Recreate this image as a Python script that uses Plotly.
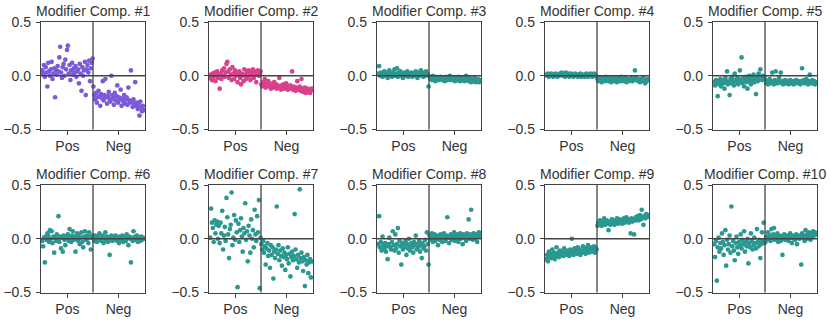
import plotly.graph_objects as go

# values, one list per half of each panel
pos_1 = [0.05, 0.02, 0.10, -0.01, 0.08, 0.03, -0.10, 0.12, 0.04, 0.00,
         0.06, 0.13, -0.03, 0.02, 0.07, -0.20, 0.05, 0.01, 0.09, 0.04,
         0.17, 0.27, 0.03, -0.02, 0.08, 0.11, 0.00, 0.15, 0.06, 0.24,
         0.28, 0.02, 0.10, -0.04, 0.05, 0.12, 0.01, 0.07, 0.03, 0.09,
         -0.01, 0.04, 0.06, -0.07, 0.11, 0.02, -0.14, 0.08, 0.00, 0.05,
         0.13, -0.18, 0.06, 0.10, 0.03, 0.14, -0.05, 0.07, 0.12, 0.16]
neg_1 = [-0.10, -0.18, -0.22, -0.16, -0.25, -0.20, -0.14, -0.19, -0.28, -0.17,
         -0.21, -0.05, -0.23, -0.18, -0.03, -0.20, -0.26, -0.19, -0.15, -0.22,
         -0.24, 0.00, -0.18, -0.21, -0.27, -0.16, -0.23, -0.19, -0.09, -0.25,
         -0.20, -0.22, -0.13, -0.28, -0.21, -0.24, -0.18, -0.26, -0.22, -0.20,
         -0.27, -0.11, -0.23, -0.25, 0.05, -0.24, -0.29, -0.22, -0.26, -0.06,
         -0.28, -0.25, -0.31, -0.27, -0.37, -0.24, -0.30, -0.33, -0.28, -0.32]

pos_2 = [-0.02, 0.01, -0.04, 0.02, -0.01, 0.03, -0.05, 0.00, 0.04, -0.02,
         0.01, -0.12, 0.02, -0.03, 0.05, 0.00, 0.07, -0.01, 0.03, 0.11,
         0.13, 0.04, -0.02, 0.06, 0.01, -0.04, 0.08, 0.02, -0.03, 0.05,
         0.00, 0.03, -0.06, 0.01, 0.04, -0.02, -0.08, 0.02, 0.00, -0.05,
         0.06, 0.01, -0.03, 0.04, -0.01, 0.05, 0.02, -0.04, 0.03, 0.00,
         0.06, -0.02, 0.04, 0.01, -0.06, 0.03, 0.05, 0.00, 0.02, 0.04]
neg_2 = [-0.08, -0.10, -0.06, -0.09, -0.03, -0.11, -0.07, -0.09, -0.05, -0.10,
         -0.08, -0.12, -0.09, -0.07, -0.11, -0.06, -0.10, -0.08, -0.12, -0.09,
         -0.11, -0.02, -0.10, -0.13, -0.09, -0.11, -0.08, -0.12, -0.10, -0.07,
         -0.11, -0.13, -0.10, -0.12, -0.09, -0.11, 0.04, -0.13, -0.10, -0.12,
         -0.14, -0.11, -0.05, -0.13, -0.12, -0.10, -0.14, -0.03, -0.12, -0.15,
         -0.13, -0.11, -0.16, -0.14, -0.12, -0.15, -0.13, -0.16, -0.14, -0.12]

pos_3 = [0.02, 0.09, 0.00, 0.03, 0.01, -0.01, 0.02, 0.04, 0.00, 0.01,
         0.03, -0.02, 0.01, 0.05, 0.00, 0.02, -0.01, 0.03, 0.01, 0.06,
         0.00, 0.02, 0.07, -0.01, 0.03, 0.01, 0.04, 0.00, 0.02, -0.02,
         0.01, 0.03, 0.00, 0.02, 0.04, -0.01, 0.01, 0.02, 0.00, 0.03,
         -0.01, 0.01, 0.02, 0.00, 0.04, 0.01, -0.02, 0.02, 0.03, 0.00,
         0.05, 0.01, 0.02, -0.01, 0.03, 0.00, 0.04, 0.02, 0.01, -0.10]
neg_3 = [-0.01, -0.03, -0.02, -0.04, 0.00, -0.03, -0.02, -0.05, -0.01, -0.03,
         -0.02, -0.04, -0.03, -0.01, -0.02, -0.04, -0.03, -0.02, -0.05, -0.03,
         -0.01, -0.04, -0.02, -0.03, 0.00, -0.04, -0.03, -0.02, -0.04, -0.03,
         -0.05, -0.02, -0.03, -0.04, -0.01, -0.03, -0.05, -0.02, -0.04, -0.03,
         -0.02, -0.05, -0.03, 0.00, -0.04, -0.03, -0.05, -0.02, -0.04, -0.06,
         -0.03, -0.05, -0.04, -0.02, -0.06, -0.04, -0.05, -0.03, -0.06, -0.04]

pos_4 = [0.01, 0.00, 0.02, -0.01, 0.01, 0.00, 0.02, 0.01, -0.01, 0.00,
         0.01, 0.02, 0.00, -0.01, 0.01, 0.00, 0.02, 0.01, 0.03, 0.00,
         0.02, 0.01, -0.01, 0.03, 0.01, 0.00, 0.02, -0.01, 0.01, 0.02,
         0.00, 0.01, -0.01, 0.00, 0.02, 0.01, 0.00, -0.01, 0.01, 0.00,
         0.02, -0.01, 0.00, 0.01, 0.00, -0.01, 0.01, 0.02, 0.00, -0.01,
         0.01, 0.00, 0.02, 0.01, -0.01, 0.00, 0.02, 0.01, 0.00, -0.01]
neg_4 = [-0.03, -0.05, -0.02, -0.04, -0.03, -0.06, -0.02, -0.04, -0.03, -0.05,
         -0.01, -0.04, -0.03, -0.05, -0.02, -0.04, -0.06, -0.03, -0.04, -0.02,
         -0.05, -0.03, -0.04, -0.06, -0.02, -0.04, -0.03, -0.05, -0.01, -0.04,
         -0.03, -0.05, -0.04, -0.02, -0.06, -0.03, -0.04, -0.05, -0.03, -0.04,
         -0.02, -0.05, -0.03, -0.04, 0.05, -0.02, -0.04, -0.03, -0.05, -0.04,
         -0.06, -0.03, -0.05, -0.04, -0.02, -0.05, -0.07, -0.04, -0.05, -0.03]

pos_5 = [-0.06, -0.09, -0.04, -0.07, -0.19, -0.05, -0.08, -0.03, -0.10, -0.06,
         -0.04, -0.07, -0.12, -0.02, -0.05, 0.04, -0.08, -0.06, -0.18, -0.03,
         -0.07, -0.01, -0.05, -0.09, 0.02, -0.04, -0.06, -0.02, -0.08, -0.03,
         0.05, -0.05, 0.17, -0.07, -0.02, -0.10, -0.04, -0.01, -0.06, -0.12,
         -0.03, 0.00, -0.05, -0.08, -0.02, -0.04, 0.01, -0.06, -0.03, -0.17,
         -0.01, -0.05, 0.02, -0.03, 0.06, -0.02, -0.04, 0.00, -0.03, -0.01]
neg_5 = [-0.04, -0.07, -0.05, -0.08, -0.06, -0.03, -0.07, -0.05, 0.03, -0.06,
         -0.08, -0.04, 0.04, -0.06, -0.07, -0.05, -0.02, -0.06, 0.03, -0.07,
         -0.05, -0.08, -0.06, -0.04, -0.07, -0.06, -0.05, -0.08, -0.06, -0.04,
         -0.07, -0.05, -0.06, -0.08, -0.05, -0.07, -0.04, -0.06, -0.05, -0.07,
         -0.06, -0.08, -0.05, 0.07, -0.06, -0.04, -0.07, -0.05, -0.03, -0.06,
         -0.08, -0.05, 0.01, -0.07, -0.06, -0.04, -0.07, -0.05, -0.08, -0.06]

pos_6 = [-0.02, -0.07, 0.01, -0.22, 0.02, -0.01, 0.05, 0.03, -0.03, 0.08,
         0.00, 0.07, -0.04, 0.02, -0.13, 0.01, -0.02, 0.04, 0.00, 0.21,
         -0.03, 0.02, -0.09, 0.01, -0.12, 0.03, -0.01, -0.06, 0.02, 0.00,
         0.04, -0.02, 0.09, 0.01, -0.03, 0.03, 0.07, -0.01, 0.02, -0.12,
         0.00, 0.05, -0.02, 0.03, -0.05, 0.01, 0.06, -0.03, -0.08, 0.02,
         0.07, -0.01, 0.03, 0.00, -0.04, 0.06, 0.02, -0.10, 0.01, 0.03]
neg_6 = [0.01, -0.02, 0.03, 0.00, -0.03, 0.02, -0.01, 0.05, 0.00, -0.02,
         0.01, 0.03, -0.04, 0.00, 0.06, -0.01, 0.02, -0.03, 0.00, -0.15,
         0.01, 0.03, -0.02, 0.00, 0.02, -0.01, 0.03, 0.00, -0.02, 0.01,
         -0.04, 0.02, 0.00, -0.01, 0.03, -0.03, 0.01, 0.00, -0.02, 0.04,
         0.01, -0.06, 0.02, 0.00, -0.22, 0.01, -0.02, 0.07, 0.00, 0.02,
         -0.01, 0.03, -0.03, 0.01, 0.00, -0.02, 0.02, -0.01, 0.01, 0.00]

pos_7 = [0.01, 0.28, 0.15, 0.10, -0.03, 0.17, 0.05, 0.13, 0.16, 0.00,
         0.12, -0.04, 0.15, 0.05, 0.26, -0.10, 0.03, 0.11, -0.02, 0.38,
         0.20, 0.04, -0.18, 0.09, 0.13, 0.43, -0.06, 0.01, 0.22, -0.01,
         0.17, 0.06, -0.45, 0.14, -0.03, 0.08, 0.19, 0.02, -0.12, 0.10,
         0.05, 0.33, -0.01, 0.07, -0.21, 0.12, 0.03, -0.13, 0.18, 0.00,
         0.08, -0.08, 0.27, 0.04, -0.02, 0.21, 0.06, 0.36, -0.46, 0.01]
neg_7 = [-0.05, -0.10, -0.02, -0.13, -0.07, -0.24, -0.09, -0.04, -0.16, -0.11,
         -0.27, -0.06, -0.15, -0.08, -0.37, -0.12, -0.18, -0.10, 0.30, -0.14,
         -0.06, -0.20, -0.11, -0.16, -0.25, -0.09, -0.17, -0.13, -0.29, -0.15,
         -0.19, -0.08, -0.23, -0.14, -0.35, -0.17, -0.12, -0.20, -0.16, 0.23,
         -0.10, -0.19, -0.27, -0.15, -0.22, 0.46, -0.18, -0.13, -0.21, -0.30,
         -0.17, -0.44, -0.20, -0.24, -0.15, -0.32, -0.22, -0.19, -0.36, -0.21]

pos_8 = [-0.05, 0.21, -0.08, -0.03, -0.11, 0.02, -0.06, -0.09, -0.04, -0.12,
         -0.07, -0.19, -0.05, 0.01, -0.08, -0.10, -0.03, 0.07, -0.06, -0.11,
         0.04, -0.09, -0.05, 0.10, -0.13, -0.02, -0.07, -0.24, -0.04, -0.10,
         -0.06, -0.08, -0.02, -0.15, -0.05, -0.09, 0.00, -0.11, -0.07, -0.04,
         -0.08, -0.13, -0.03, -0.06, 0.03, -0.10, -0.05, -0.08, -0.02, -0.12,
         -0.06, -0.18, -0.04, -0.09, -0.07, -0.01, -0.11, 0.06, -0.05, -0.24]
neg_8 = [0.03, -0.01, 0.02, 0.05, -0.03, 0.01, 0.04, -0.02, 0.00, 0.03,
         -0.06, 0.02, -0.01, 0.04, 0.01, -0.03, 0.02, 0.05, 0.00, -0.02,
         0.03, 0.20, 0.01, -0.04, 0.02, 0.04, -0.01, 0.03, 0.00, 0.06,
         -0.02, 0.02, 0.04, 0.01, -0.03, 0.03, 0.05, 0.00, 0.02, -0.05,
         0.04, 0.01, 0.03, -0.02, 0.05, 0.02, 0.18, 0.00, 0.04, 0.27,
         0.02, -0.01, 0.05, 0.03, 0.00, 0.04, -0.03, 0.02, 0.06, 0.03]

pos_9 = [-0.19, -0.15, -0.21, -0.12, -0.17, -0.14, -0.18, -0.10, -0.16, -0.13,
         -0.19, -0.15, -0.08, -0.16, -0.13, -0.17, -0.11, -0.15, -0.12, -0.14,
         -0.16, -0.09, -0.13, -0.15, -0.11, -0.14, -0.12, -0.16, -0.10, -0.13,
         0.00, -0.12, -0.15, -0.09, -0.13, -0.11, -0.14, -0.08, -0.12, -0.10,
         -0.15, -0.11, -0.13, -0.07, -0.12, -0.10, -0.14, -0.09, -0.11, -0.06,
         -0.13, -0.10, -0.08, -0.12, -0.09, -0.11, -0.07, -0.13, -0.09, -0.10]
neg_9 = [0.12, 0.15, 0.13, 0.17, 0.14, 0.12, 0.16, 0.14, 0.19, 0.13,
         0.15, 0.17, 0.14, 0.08, 0.16, 0.13, 0.15, 0.18, 0.14, 0.16,
         0.13, 0.17, 0.15, 0.19, 0.14, 0.16, 0.18, 0.15, 0.17, 0.14,
         0.16, 0.19, 0.15, 0.17, 0.20, 0.16, 0.18, 0.15, 0.17, 0.05,
         0.19, 0.16, 0.18, 0.04, 0.17, 0.20, 0.18, 0.21, 0.17, 0.19,
         0.22, 0.18, 0.27, 0.20, 0.13, 0.21, 0.19, 0.23, 0.20, 0.22]

pos_10 = [-0.05, -0.17, -0.02, -0.39, -0.08, 0.01, -0.12, -0.04, -0.09, 0.05,
          -0.03, -0.15, -0.06, 0.08, -0.25, -0.01, -0.10, -0.05, 0.03, -0.13,
          0.30, -0.07, -0.02, -0.11, -0.20, -0.04, 0.02, -0.08, -0.14, -0.03,
          -0.06, 0.04, -0.09, -0.01, -0.05, 0.07, -0.12, -0.03, -0.07, 0.00,
          -0.23, -0.04, -0.08, 0.05, -0.02, -0.10, -0.06, 0.01, -0.04, -0.09,
          0.09, -0.03, -0.07, -0.01, -0.18, -0.05, 0.06, -0.02, 0.15, -0.04]
neg_10 = [-0.03, 0.02, -0.01, 0.06, 0.00, 0.03, -0.02, 0.09, 0.01, 0.04,
          0.10, -0.01, 0.02, 0.00, 0.05, -0.03, 0.01, 0.03, -0.02, 0.00,
          -0.15, 0.02, 0.04, -0.01, 0.01, 0.03, 0.00, -0.02, 0.02, 0.05,
          0.01, -0.04, 0.03, 0.00, 0.02, -0.01, 0.04, -0.05, 0.01, 0.03,
          0.00, 0.02, -0.24, 0.05, 0.01, 0.03, -0.02, 0.08, 0.02, 0.04,
          0.00, 0.06, 0.03, -0.01, 0.05, 0.02, 0.07, 0.03, 0.06, 0.04]

group_labels = ["Pos", "Neg"]
y_ticks = [-0.5, 0.0, 0.5]
titles = [f"Modifier Comp. #{i}" for i in range(1, 11)]
colors = ["#7b5ad9", "#d9418c"] + ["#2a9890"] * 8

series = [(pos_1, neg_1), (pos_2, neg_2), (pos_3, neg_3), (pos_4, neg_4), (pos_5, neg_5),
          (pos_6, neg_6), (pos_7, neg_7), (pos_8, neg_8), (pos_9, neg_9), (pos_10, neg_10)]

W, H = 831, 320
col_left = [41, 209, 377, 545, 713]
panel_w = 104
row_top = [22, 185]
panel_h = 107.5
axis_col = "#444444"
font = dict(family="Liberation Sans, Arial, sans-serif", size=14, color="#333333")

fig = go.Figure()
shapes = []
annotations = []

for k, (pos, neg) in enumerate(series):
    r, c = divmod(k, 5)
    ax = "" if k == 0 else str(k + 1)
    n_pos, n_neg = len(pos), len(neg)
    xs = list(range(n_pos + n_neg))

    fig.add_trace(go.Scatter(
        x=xs, y=pos + neg, mode="markers",
        marker=dict(color=colors[k], size=4.7, line=dict(width=0)),
        xaxis="x" + ax, yaxis="y" + ax, showlegend=False
    ))

    x0 = col_left[c] / W
    y1 = 1 - row_top[r] / H
    fig.layout["xaxis" + ax] = dict(
        domain=[x0, x0 + panel_w / W], anchor="y" + ax, automargin=False,
        range=[-1.5, n_pos + n_neg + 0.5],
        tickvals=[(n_pos - 1) / 2, n_pos + (n_neg - 1) / 2], ticktext=group_labels,
        showline=True, mirror=True, linecolor=axis_col, linewidth=1.3,
        ticks="outside", ticklen=4, tickcolor=axis_col, showgrid=False, zeroline=False,
        tickfont=font
    )
    fig.layout["yaxis" + ax] = dict(
        domain=[y1 - panel_h / H, y1], anchor="x" + ax, automargin=False,
        range=[-0.5, 0.5], tickvals=y_ticks, tickformat=".1f",
        showline=True, mirror=True, linecolor=axis_col, linewidth=1.3,
        ticks="outside", ticklen=4, tickcolor=axis_col, showgrid=False, zeroline=False,
        tickfont=font, ticklabelstandoff=2
    )

    # zero line and Pos/Neg divider
    shapes.append(dict(type="line", xref=f"x{ax} domain", x0=0, x1=1,
                       yref="y" + ax, y0=0, y1=0, line=dict(color=axis_col, width=1.3)))
    shapes.append(dict(type="line", xref="x" + ax, x0=n_pos - 0.5, x1=n_pos - 0.5,
                       yref=f"y{ax} domain", y0=0, y1=1, line=dict(color=axis_col, width=1.3)))

    annotations.append(dict(text=titles[k], xref=f"x{ax} domain", x=0.5,
                            yref=f"y{ax} domain", y=1, yanchor="bottom", yshift=1,
                            showarrow=False, font=font))

fig.update_layout(
    width=W, height=H, margin=dict(l=0, r=0, t=0, b=0, autoexpand=False),
    plot_bgcolor="white", paper_bgcolor="white",
    shapes=shapes, annotations=annotations, font=font
)

# the page's default body margin would push the fixed-size figure off the window
fig.write_html("out.html", config={"displayModeBar": False},
               post_script="document.body.style.margin = '0';")
